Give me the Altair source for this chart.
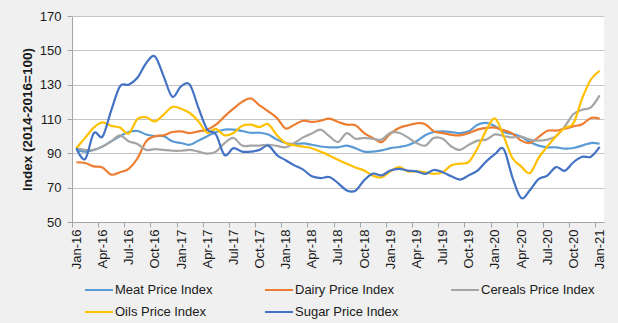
import altair as alt
import pandas as pd

month_names = ["Jan", "Feb", "Mar", "Apr", "May", "Jun", "Jul", "Aug", "Sep", "Oct", "Nov", "Dec"]
month_labels = [f"{m}-{y}" for y in range(16, 22) for m in month_names][:61]

series_names = ["Meat Price Index", "Dairy Price Index", "Cereals Price Index",
                "Oils Price Index", "Sugar Price Index"]
series_colors = ["#5B9BD5", "#ED7D31", "#A5A5A5", "#FFC000", "#4472C4"]

meat = [92, 91, 92, 94, 97, 100, 102.4, 103, 101, 100, 100, 97,
        96, 95, 97.4, 100, 102.4, 103.8, 103.8, 103, 102, 102, 101, 98,
        96, 95.4, 95.8, 95, 94, 93.5, 93.5, 94.5, 93, 91, 91, 91.7,
        93, 93.7, 94.7, 97, 100.5, 102.4, 102.8, 102.4, 101.8, 102.8, 106.7, 107.7,
        105.8, 102.4, 101.3, 99.7, 96.6, 94.5, 93.5, 93.5, 92.7, 93.1, 94.5, 96, 95.6]

dairy = [84.8, 84.4, 82.4, 81.8, 77.6, 79, 81, 87, 97, 100, 100.5, 102.4,
         102.8, 101.8, 102.8, 103.8, 106.7, 111.5, 116, 120, 122, 118, 114.5, 110.6,
         104.5, 106.7, 109, 108.3, 109, 110.2, 108.3, 106.7, 106.3, 101.8, 99, 96.5,
         101.5, 104.8, 106.3, 107.5, 107, 102.8, 101.8, 100.8, 100.5, 101.8, 103.8, 104.8,
         105, 103.4, 101.5, 97.4, 96, 99.5, 103.2, 103.2, 104.4, 105.7, 107, 110.6, 110.2]

cereals = [93, 92, 92, 94, 97, 100.5, 97, 95.5, 92, 92.5, 92, 91.5,
           91.5, 92, 91, 89.8, 91, 96, 99, 94.5, 94.5, 94.5, 95, 94.3,
           93.5, 96, 99.3, 101.5, 103.8, 100, 96.6, 101.8, 98.5, 99, 98.5, 98,
           102, 102, 99.3, 96, 94.5, 99, 98.5, 94, 92, 95, 97.4, 98,
           101, 100.1, 99.3, 99.7, 98, 97.4, 98, 100, 105.7, 112.9, 115.4, 116.8, 123.8]

oils = [93, 99, 105, 108, 106, 105, 101.5, 110, 111, 108.6, 112.5, 117,
        116, 113.5, 108.6, 102, 104.2, 100.5, 101.8, 106, 106.7, 105.3, 107, 100.5,
        96, 94.7, 93.9, 93, 91, 88.8, 86.3, 84, 81.8, 80, 77, 76,
        79.5, 82, 79.5, 79.5, 79, 78, 79, 83, 84, 85, 93, 103.5,
        110.3, 99.9, 87.3, 82.4, 78.5, 87.3, 94, 100, 104.8, 107.5, 122, 133, 138]

sugar = [93, 86.6, 101.8, 99.8, 115, 129, 130, 134, 142.5, 146.5, 135, 123,
         129, 130, 116.5, 104, 101, 89, 93, 91, 91, 92, 94.5, 89,
         86, 83, 80.5, 76.6, 75.6, 76.2, 72.7, 68.4, 68.2, 74.3, 78.2, 77.2,
         80, 81, 79.9, 79.5, 78, 80.3, 79, 76.6, 74.7, 77.2, 79.9, 85.3,
         89.5, 92.5, 76, 64, 68.5, 75, 77, 82, 79.8, 84.8, 88, 88, 93.7]

y_ticks = [50, 70, 90, 110, 130, 150, 170]

rows = []
for name, vals in zip(series_names, [meat, dairy, cereals, oils, sugar]):
    for i, v in enumerate(vals):
        rows.append({"t": i, "month": month_labels[i], "series": name, "value": v})
df = pd.DataFrame(rows)

tick_vals = [i - 0.5 for i in range(0, 61, 3)]
label_js = "[" + ",".join(f"'{l}'" for l in month_labels[::3]) + "]"

FONT = "Liberation Sans"
TXT = "#1a1a1a"

chart = alt.Chart(df).mark_line(
    interpolate="cardinal", strokeWidth=2.2
).encode(
    x=alt.X("t:Q",
            scale=alt.Scale(domain=[-0.5, 60.5], nice=False, zero=False),
            axis=alt.Axis(values=tick_vals,
                          labelExpr=f"{label_js}[round((datum.value + 0.5) / 3)]",
                          labelAngle=-90, labelOffset=4.36, labelFlush=False,
                          labelOverlap=False, grid=False, title=None,
                          tickSize=5, labelPadding=2, labelFontSize=13,
                          labelFont=FONT, labelColor=TXT,
                          domainColor="#a6a6a6", tickColor="#a6a6a6")),
    y=alt.Y("value:Q",
            scale=alt.Scale(domain=[50, 170], nice=False, zero=False),
            axis=alt.Axis(values=y_ticks, title="Index (2014-2016=100)",
                          titleFont=FONT, titleFontSize=13.5, titleFontWeight="bold",
                          titleColor=TXT, titlePadding=5,
                          labelFont=FONT, labelFontSize=13, labelColor=TXT,
                          labelPadding=6, tickSize=5,
                          gridColor="#c4c4c4", domainColor="#a6a6a6", tickColor="#a6a6a6")),
    color=alt.Color("series:N",
                    scale=alt.Scale(domain=series_names, range=series_colors),
                    sort=series_names,
                    legend=alt.Legend(orient="none", legendX=12, legendY=259,
                                      direction="horizontal",
                                      columns=3, columnPadding=48, rowPadding=0,
                                      symbolType="stroke", symbolSize=784,
                                      symbolStrokeWidth=2, labelFont=FONT,
                                      labelFontSize=13, labelColor=TXT,
                                      labelOffset=1, title=None)),
    order=alt.Order("t:Q"),
).properties(
    width=532, height=206,
    autosize=alt.AutoSizeParams(type="none"),
    padding={"left": 72, "top": 16, "right": 14, "bottom": 101},
    background="#f0f0f0",
).configure_view(
    fill="white", stroke=None
)

chart.save("out.html", embed_options={"renderer": "svg", "actions": False})
